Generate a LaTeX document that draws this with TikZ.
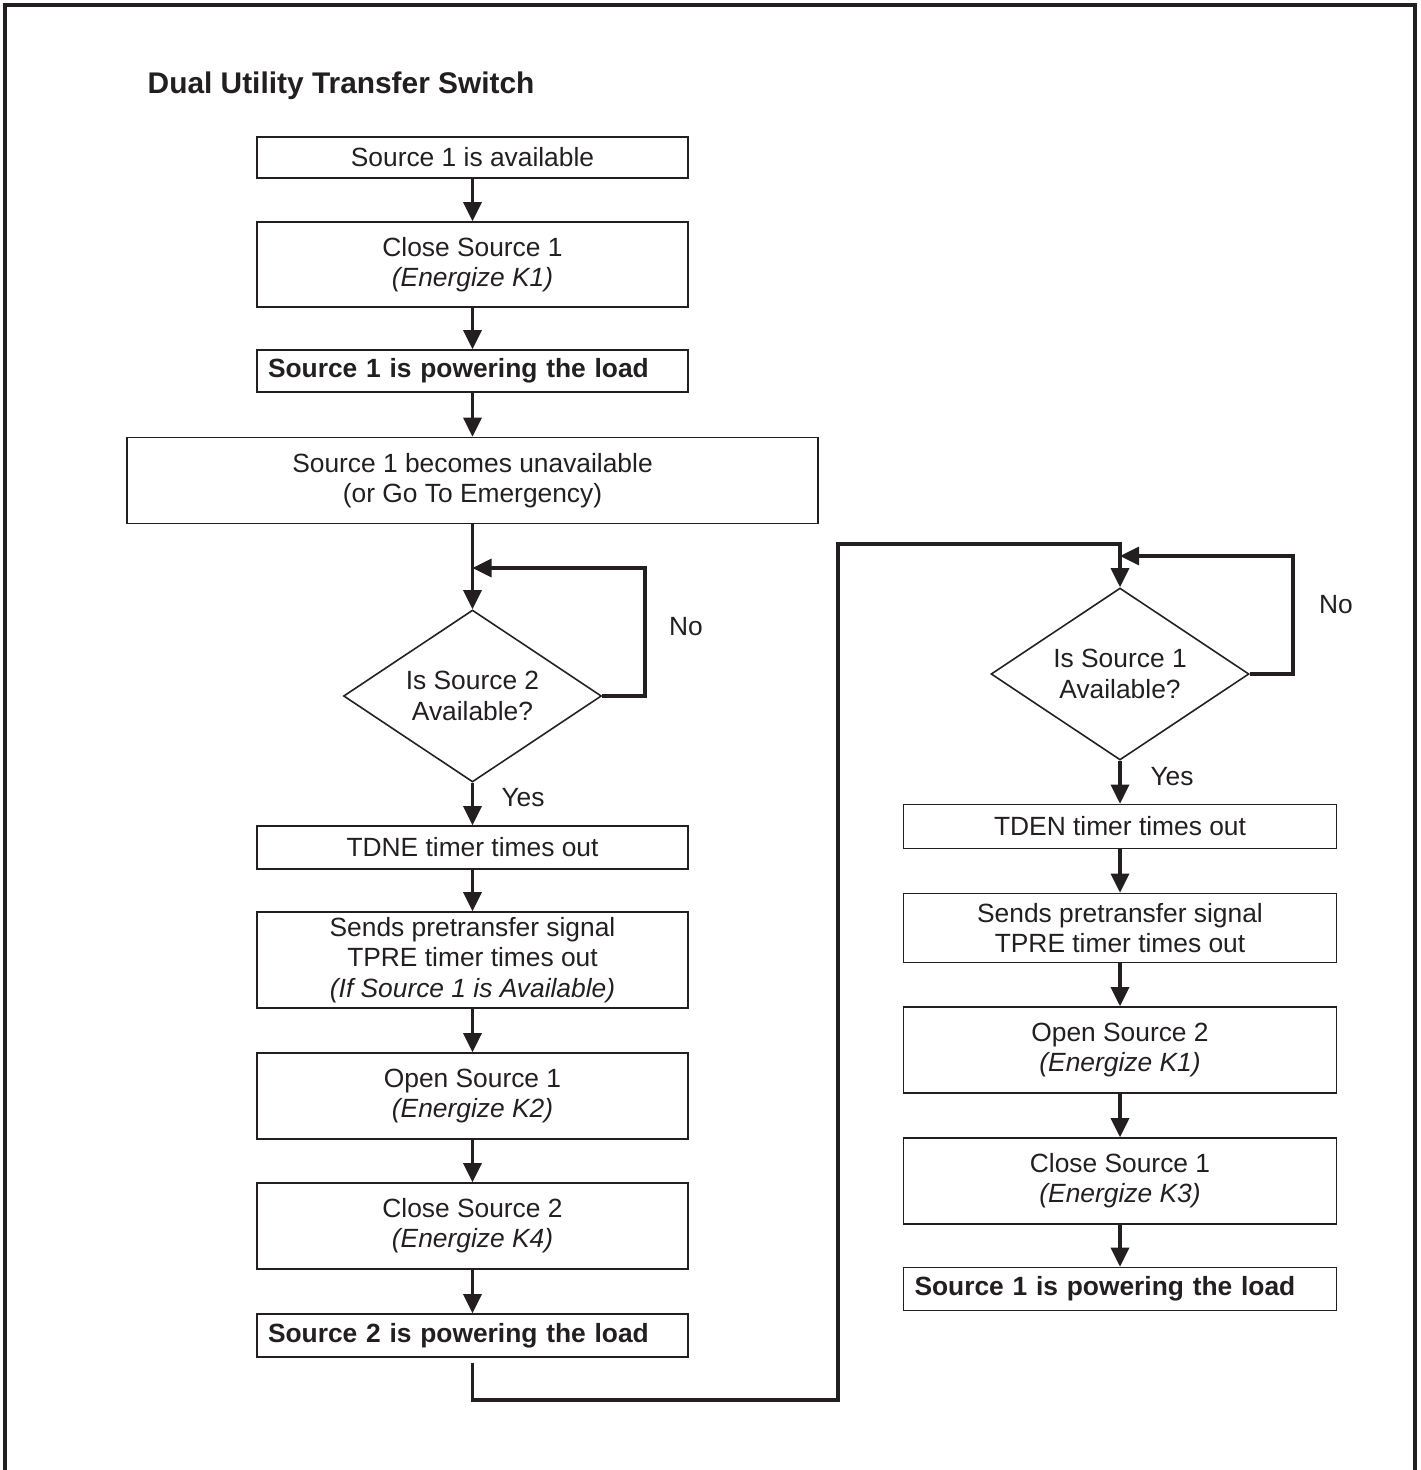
\documentclass[tikz,border=0pt]{standalone}
\usepackage{fontspec}
\setmainfont{Liberation Sans}
\usepackage{xcolor}
\usetikzlibrary{calc,arrows.meta,shapes.geometric}
\definecolor{inkBlack}{RGB}{35,31,32}
\tikzset{
  stepbox/.style={draw=inkBlack,line width=0.45pt,minimum width=4.31cm,inner sep=0pt,align=center,text=inkBlack,font=\fontsize{7.5}{8.6}\selectfont},
  loadbox/.style={stepbox,font=\bfseries\fontsize{7.5}{8.6}\selectfont,text width=4.09cm,inner xsep=0.11cm,align=left},
  askbox/.style={diamond,aspect=1.5,draw=inkBlack,line width=0.45pt,minimum width=2.58cm,minimum height=1.72cm,inner sep=0pt,align=center,text=inkBlack,font=\fontsize{7.5}{8.6}\selectfont},
  answer/.style={text=inkBlack,font=\fontsize{7.5}{8.6}\selectfont},
  flow/.style={-{Triangle[length=1.9mm,width=1.8mm]},draw=inkBlack,line width=0.95pt},
  flowline/.style={draw=inkBlack,line width=0.95pt}
}

\begin{document}
\begin{tikzpicture}
\useasboundingbox (0,0) rectangle (14.2,-14.7);
\draw[inkBlack,line width=1.1pt] (0.05,-14.7) -- (0.05,-0.05) -- (14.15,-0.05) -- (14.15,-14.7);
\node[anchor=west,inner xsep=0pt,text=inkBlack,font=\bfseries\fontsize{8.5}{10}\selectfont] (titre) at (1.47,-0.86) {Dual Utility Transfer Switch};
% left column
\node[stepbox,minimum height=0.41cm] (srcone) at (4.725,-1.575) {Source 1 is available};
\node[stepbox,minimum height=0.85cm] (closeone) at (4.725,-2.645) {Close Source 1\\ \itshape(Energize K1)};
\node[loadbox,minimum height=0.42cm] (oneload) at (4.725,-3.71) {Source 1 is powering the load};
\node[stepbox,minimum width=6.91cm,minimum height=0.86cm] (lossone) at (4.725,-4.805) {Source 1 becomes unavailable\\ (or Go To Emergency)};
\node[askbox] (asktwo) at (4.725,-6.96) {Is Source 2\\ Available?};
\node[stepbox,minimum height=0.43cm] (tdne) at (4.725,-8.475) {TDNE timer times out};
\node[stepbox,minimum height=0.96cm] (pretwo) at (4.725,-9.60) {Sends pretransfer signal\\ TPRE timer times out\\ \itshape(If Source 1 is Available)};
\node[stepbox,minimum height=0.86cm] (openone) at (4.725,-10.96) {Open Source 1\\ \itshape(Energize K2)};
\node[stepbox,minimum height=0.86cm] (closetwo) at (4.725,-12.26) {Close Source 2\\ \itshape(Energize K4)};
\node[loadbox,minimum height=0.43cm] (twoload) at (4.725,-13.355) {Source 2 is powering the load};
% right column
\node[askbox] (askone) at (11.2,-6.74) {Is Source 1\\ Available?};
\node[stepbox,minimum width=4.33cm,minimum height=0.44cm] (tden) at (11.2,-8.265) {TDEN timer times out};
\node[stepbox,minimum width=4.33cm,minimum height=0.69cm] (preone) at (11.2,-9.28) {Sends pretransfer signal\\ TPRE timer times out};
\node[stepbox,minimum width=4.33cm,minimum height=0.86cm] (opentwo) at (11.2,-10.50) {Open Source 2\\ \itshape(Energize K1)};
\node[stepbox,minimum width=4.33cm,minimum height=0.86cm] (closeagain) at (11.2,-11.81) {Close Source 1\\ \itshape(Energize K3)};
\node[loadbox,text width=4.11cm,minimum height=0.43cm] (oneback) at (11.2,-12.89) {Source 1 is powering the load};
% yes / no
\node[answer] (notwo) at (6.86,-6.27) {No};
\node[answer] (yestwo) at (5.23,-7.98) {Yes};
\node[answer] (noone) at (13.36,-6.05) {No};
\node[answer] (yesone) at (11.72,-7.77) {Yes};
% bends
\coordinate (mergeleft) at (4.725,-5.68);
\coordinate (mergeright) at (11.2,-5.56);
\coordinate (bendlow) at (8.38,-14.0);
\coordinate (bendhigh) at (11.2,-5.44);
% connectors
\draw[flow] (srcone) -- (closeone);
\draw[flow] (closeone) -- (oneload);
\draw[flow] (oneload) -- (lossone);
\draw[flow] (lossone) -- (asktwo);
\draw[flow] (asktwo.east) -| ($(mergeleft)+(1.725,0)$) -- (mergeleft);
\draw[flow] (asktwo) -- (tdne);
\draw[flow] (tdne) -- (pretwo);
\draw[flow] (pretwo) -- (openone);
\draw[flow] (openone) -- (closetwo);
\draw[flow] (closetwo) -- (twoload);
\draw[flow] ($(twoload.south)+(0,-0.05)$) |- (bendlow) |- (bendhigh) -- (askone.north);
\draw[flow] (askone.east) -| ($(mergeright)+(1.73,0)$) -- (mergeright);
\draw[flow] (askone) -- (tden);
\draw[flow] (tden) -- (preone);
\draw[flow] (preone) -- (opentwo);
\draw[flow] (opentwo) -- (closeagain);
\draw[flow] (closeagain) -- (oneback);
\end{tikzpicture}
\end{document}
